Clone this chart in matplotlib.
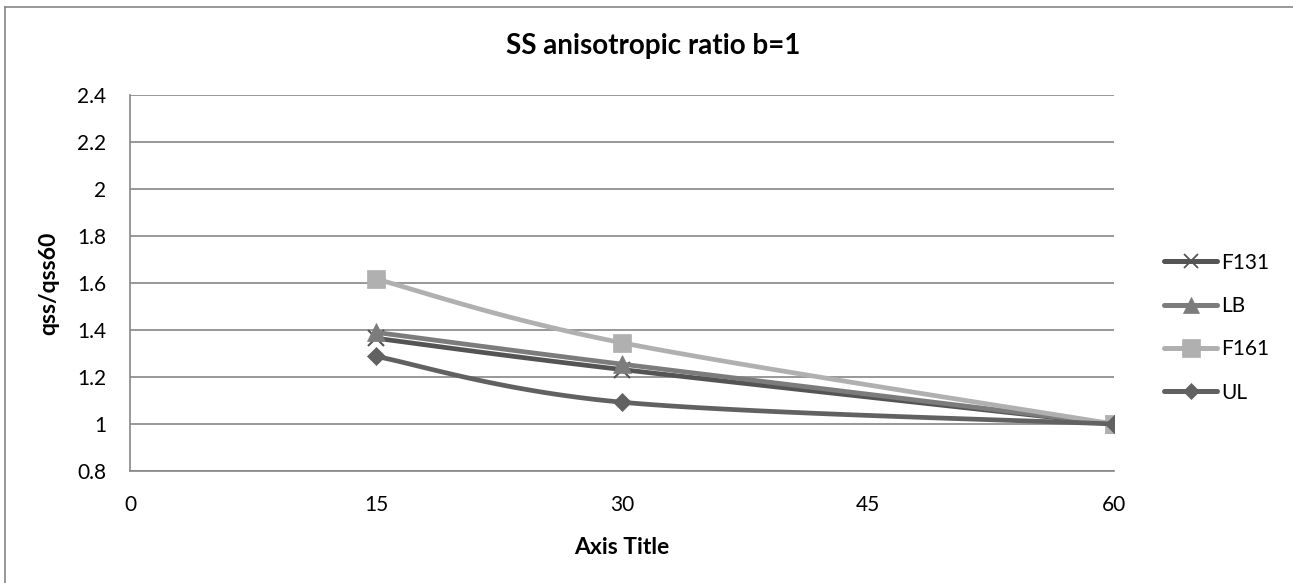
import numpy as np
import matplotlib
matplotlib.use("Agg")
from matplotlib import pyplot as plt
from matplotlib.lines import Line2D

plt.rcParams['font.family'] = ['Lato', 'DejaVu Sans']

# angle (deg) and normalised qss for each series
angles = [15, 30, 60]
f131 = [1.365, 1.232, 1.0]
lb = [1.39, 1.255, 1.0]
f161 = [1.617, 1.346, 1.0]
ul = [1.288, 1.093, 1.0]

series_names = ['F131', 'LB', 'F161', 'UL']
series_values = [f131, lb, f161, ul]
series_colors = ['#545454', '#7c7c7c', '#b0b0b0', '#616161']
series_markers = ['x', '^', 's', 'D']
marker_sizes = [11, 13, 13.5, 9]

x_ticks = [0, 15, 30, 45, 60]
y_ticks = [0.8, 1, 1.2, 1.4, 1.6, 1.8, 2, 2.2, 2.4]
y_tick_labels = ['0.8', '1', '1.2', '1.4', '1.6', '1.8', '2', '2.2', '2.4']


def smooth_curve(xs, ys, n=40):
    # bezier smoothing with control points at +-1/6 of the neighbour chord
    pts = np.column_stack([xs, ys]).astype(float)
    padded = np.vstack([pts[0], pts, pts[-1]])
    out = []
    for i in range(len(pts) - 1):
        p0, p3 = pts[i], pts[i + 1]
        c1 = p0 + (padded[i + 2] - padded[i]) / 6.0
        c2 = p3 - (padded[i + 3] - padded[i + 1]) / 6.0
        t = np.linspace(0, 1, n)[:, None]
        seg = ((1 - t) ** 3) * p0 + 3 * ((1 - t) ** 2) * t * c1 + 3 * (1 - t) * t ** 2 * c2 + t ** 3 * p3
        out.append(seg if i == 0 else seg[1:])
    seg = np.vstack(out)
    return seg[:, 0], seg[:, 1]


fig = plt.figure(figsize=(12.93, 5.83), dpi=100)
ax = fig.add_axes([0.1005, 0.192, 0.761, 0.645])

for k, (name, vals, col, mk, ms) in enumerate(zip(series_names, series_values, series_colors,
                                                 series_markers, marker_sizes)):
    sx, sy = smooth_curve(angles, vals)
    ax.plot(sx, sy, color=col, lw=3.4, solid_capstyle='round', zorder=3 + k)
    ax.plot(angles, vals, ls='none', marker=mk, ms=ms, color=col,
            mec=col, mew=1.5 if mk == 'x' else 0.5, zorder=3 + k)
    ax.plot([], [], color=col, lw=3.6, marker=mk, ms=ms - 1, mec=col,
            mew=1.3 if mk == 'x' else 0.5, solid_capstyle='round', label=name)

ax.set_xlim(0, 60)
ax.set_ylim(0.8, 2.4)
ax.set_xticks(x_ticks)
ax.set_xticklabels([str(v) for v in x_ticks])
ax.set_yticks(y_ticks)
ax.set_yticklabels(y_tick_labels)
ax.tick_params(length=0, labelsize=15)
ax.tick_params(axis='x', pad=17)
ax.tick_params(axis='y', pad=17)
ax.grid(axis='y', color='#868686', lw=1.2)
ax.set_axisbelow(True)
for side in ['top', 'right']:
    ax.spines[side].set_visible(False)
for side in ['left', 'bottom']:
    ax.spines[side].set_color('#868686')
    ax.spines[side].set_linewidth(1.2)

ax.set_xlabel('Axis Title', fontsize=16.5, fontweight='bold', labelpad=16)
ax.set_ylabel('qss/qss60', fontsize=16.5, fontweight='bold', labelpad=13)
fig.text(0.505, 0.921, 'SS anisotropic ratio b=1', ha='center', va='center',
         fontsize=20, fontweight='bold')

ax.legend(loc='center left', bbox_to_anchor=(1164 / 1293, 0.438), bbox_transform=fig.transFigure,
          frameon=False, fontsize=15, handlelength=2.55, handletextpad=0.2,
          labelspacing=1.12, borderpad=0, borderaxespad=0)

# chart area edge (top and left)
fig.add_artist(Line2D([5 / 1293, 5 / 1293], [0, 1 - 7 / 583], transform=fig.transFigure,
                      color='#868686', lw=1.2))
fig.add_artist(Line2D([5 / 1293, 1], [1 - 7 / 583, 1 - 7 / 583], transform=fig.transFigure,
                      color='#868686', lw=1.2))

fig.savefig('out.png', dpi=100)
